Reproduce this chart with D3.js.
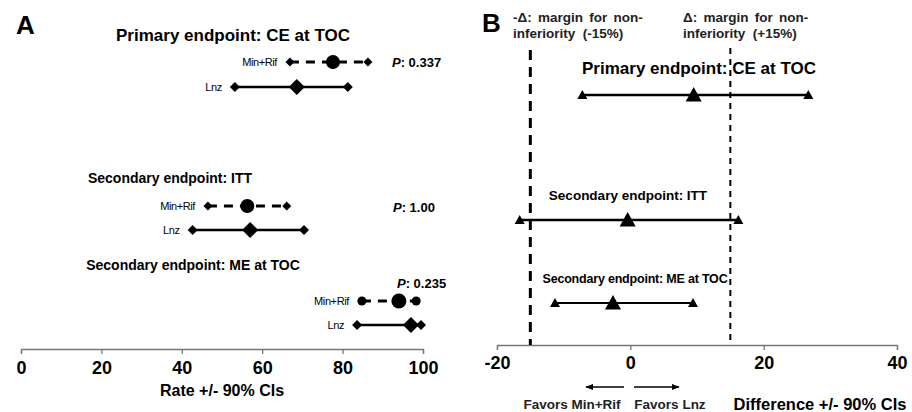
<!DOCTYPE html>
<html>
<head>
<meta charset="utf-8">
<script src="https://cdn.jsdelivr.net/npm/d3@7"></script>
<style>
  html, body { margin: 0; padding: 0; background: #fff; }
  svg { display: block; font-family: "Liberation Sans", Arial, sans-serif; }
  .pre { white-space: pre; }
</style>
</head>
<body>
<svg id="chart" width="912" height="412"></svg>
<script>
// ---------- DATA ----------
const endpoints = ["Primary endpoint: CE at TOC", "Secondary endpoint: ITT", "Secondary endpoint: ME at TOC"];
const arms = ["Min+Rif", "Lnz"];
// [lower CI, rate, upper CI]
const minRifRates = [[66.9, 77.6, 86.3], [46.5, 56.3, 66.1], [84.8, 94.0, 98.3]];
const lnzRates    = [[53.2, 68.6, 81.3], [42.7, 57.0, 70.4], [83.6, 97.0, 99.5]];
const pValues = ["0.337", "1.00", "0.235"];
// [lower CI, difference, upper CI]
const differences = [[-7.2, 9.5, 26.7], [-16.6, -0.4, 16.2], [-11.3, -2.6, 9.4]];
const margins = [-15, 15];
const marginLabels = [["-Δ: margin for non-", "inferiority  (-15%)"], ["Δ: margin for non-", "inferiority  (+15%)"]];
const ticksA = [0, 20, 40, 60, 80, 100];
const ticksB = [-20, 0, 20, 40];

// ---------- LAYOUT ----------
const svg = d3.select("#chart");
const axisColor = "#777";

// Panel A
const xA = d3.scaleLinear().domain([0, 100]).range([21, 423]);
const axisYA = 349;
const titleYA = [41, 183, 270];
const rowYA = d3.scaleOrdinal().domain(["0-Min+Rif","0-Lnz","1-Min+Rif","1-Lnz","2-Min+Rif","2-Lnz"])
  .range([62, 87, 206, 230, 301, 325]);
const titleXA = [233, 170, 193];
const titleSizeA = [17, 14, 14];
const pPos = [[392, 67], [393, 212], [397, 288]];

// Panel B
const xB = d3.scaleLinear().domain([-20, 40]).range([497, 897]);
const axisYB = 345;
const rowYB = [95, 220, 303];
const titleYB = [74, 200, 283];
const titleXB = [699, 628, 635];
const titleSizeB = [17, 13.5, 12.5];

// ---------- PANEL LETTERS ----------
svg.append("text").attr("x", 16).attr("y", 34).attr("font-size", 26).attr("font-weight", "bold").text("A");
svg.append("text").attr("x", 482).attr("y", 32).attr("font-size", 26).attr("font-weight", "bold").text("B");

// ---------- PANEL A ----------
const gA = svg.append("g");
const axA = d3.axisBottom(xA).tickValues(ticksA).tickSize(5).tickFormat(d3.format("d"));
const axisGA = gA.append("g").attr("transform", `translate(0,${axisYA})`).call(axA);
axisGA.select(".domain").attr("stroke", axisColor).attr("stroke-width", 1.3);
axisGA.selectAll(".tick line").attr("stroke", axisColor).attr("stroke-width", 1.3);
axisGA.selectAll(".tick text").attr("font-size", 18).attr("font-weight", "bold").attr("fill", "#000")
  .attr("dy", "0.73em").attr("y", 12).attr("font-family", "Liberation Sans, Arial, sans-serif");
gA.append("text").attr("x", 222).attr("y", 396).attr("text-anchor", "middle")
  .attr("font-size", 16).attr("font-weight", "bold").text("Rate +/- 90% CIs");

const diamond = (cx, cy, r) => `M${cx},${cy - r}L${cx + r},${cy}L${cx},${cy + r}L${cx - r},${cy}Z`;

endpoints.forEach((ep, i) => {
  gA.append("text").attr("x", titleXA[i]).attr("y", titleYA[i]).attr("text-anchor", "middle")
    .attr("font-size", titleSizeA[i]).attr("font-weight", "bold").text(ep);

  // P value
  const pt = gA.append("text").attr("x", pPos[i][0]).attr("y", pPos[i][1])
    .attr("font-size", 13).attr("font-weight", "bold");
  pt.append("tspan").attr("font-style", "italic").text("P");
  pt.append("tspan").text(": " + pValues[i]);

  // Min+Rif
  const mr = minRifRates[i];
  const yM = rowYA(i + "-Min+Rif");
  gA.append("line").attr("x1", xA(mr[0])).attr("x2", xA(mr[2])).attr("y1", yM).attr("y2", yM)
    .attr("stroke", "#000").attr("stroke-width", 3).attr("stroke-dasharray", "9,7");
  if (i === 2) {
    gA.append("circle").attr("cx", xA(mr[0])).attr("cy", yM).attr("r", 4.5);
    gA.append("circle").attr("cx", xA(mr[2])).attr("cy", yM).attr("r", 4.5);
  } else {
    gA.append("path").attr("d", diamond(xA(mr[0]), yM, 4.5));
    gA.append("path").attr("d", diamond(xA(mr[2]), yM, 4.5));
  }
  gA.append("circle").attr("cx", xA(mr[1])).attr("cy", yM).attr("r", i === 2 ? 7.5 : 7);
  gA.append("text").attr("x", xA(mr[0]) - 13).attr("y", yM + 4).attr("text-anchor", "end")
    .attr("font-size", 11).attr("letter-spacing", -0.4).text(arms[0]);

  // Lnz
  const lz = lnzRates[i];
  const yL = rowYA(i + "-Lnz");
  gA.append("line").attr("x1", xA(lz[0])).attr("x2", xA(lz[2])).attr("y1", yL).attr("y2", yL)
    .attr("stroke", "#000").attr("stroke-width", 2.5);
  gA.append("path").attr("d", diamond(xA(lz[0]), yL, 5));
  gA.append("path").attr("d", diamond(xA(lz[2]), yL, 5));
  gA.append("path").attr("d", diamond(xA(lz[1]), yL, 8));
  gA.append("text").attr("x", xA(lz[0]) - 13).attr("y", yL + 4).attr("text-anchor", "end")
    .attr("font-size", 11).attr("letter-spacing", -0.4).text(arms[1]);
});

// ---------- PANEL B ----------
const gB = svg.append("g");
const axB = d3.axisBottom(xB).tickValues(ticksB).tickSize(5).tickFormat(d3.format("d"));
const axisGB = gB.append("g").attr("transform", `translate(0,${axisYB})`).call(axB);
axisGB.select(".domain").attr("stroke", axisColor).attr("stroke-width", 1.3);
axisGB.selectAll(".tick line").attr("stroke", axisColor).attr("stroke-width", 1.3);
axisGB.selectAll(".tick text").attr("font-size", 18).attr("font-weight", "bold").attr("fill", "#000")
  .attr("dy", "0.73em").attr("y", 11).attr("font-family", "Liberation Sans, Arial, sans-serif")
  .text(d => d < 0 ? "-" + Math.abs(d) : d);

// margin lines
gB.append("line").attr("x1", xB(margins[0])).attr("x2", xB(margins[0])).attr("y1", 50).attr("y2", axisYB)
  .attr("stroke", "#000").attr("stroke-width", 3).attr("stroke-dasharray", "10,7");
gB.append("line").attr("x1", xB(margins[1])).attr("x2", xB(margins[1])).attr("y1", 48).attr("y2", axisYB)
  .attr("stroke", "#000").attr("stroke-width", 2).attr("stroke-dasharray", "6,5");

marginLabels.forEach((lbl, i) => {
  const x = i === 0 ? 513 : 683;
  lbl.forEach((l, j) => {
    gB.append("text").attr("class", "pre").attr("x", x).attr("y", 22 + j * 16).attr("font-size", 13.5)
      .attr("font-weight", "bold").attr("fill", "#222")
      .attr("word-spacing", j === 0 ? 2.5 : 0).text(l);
  });
});

const tri = (cx, cy, s) => `M${cx},${cy - s}L${cx + s},${cy + s * 0.8}L${cx - s},${cy + s * 0.8}Z`;

endpoints.forEach((ep, i) => {
  const d = differences[i];
  const y = rowYB[i];
  gB.append("text").attr("x", titleXB[i]).attr("y", titleYB[i]).attr("text-anchor", "middle")
    .attr("font-size", titleSizeB[i]).attr("font-weight", "bold")
    .attr("letter-spacing", i === 2 ? -0.2 : 0).text(ep);
  gB.append("line").attr("x1", xB(d[0])).attr("x2", xB(d[2])).attr("y1", y).attr("y2", y)
    .attr("stroke", "#000").attr("stroke-width", i === 2 ? 2 : 2.5);
  gB.append("path").attr("d", tri(xB(d[0]), y, 5));
  gB.append("path").attr("d", tri(xB(d[2]), y, 5));
  gB.append("path").attr("d", tri(xB(d[1]), y, 8));
});

// favors arrows
svg.append("defs").append("marker").attr("id", "arr").attr("viewBox", "0 0 10 10")
  .attr("refX", 9).attr("refY", 5).attr("markerWidth", 6).attr("markerHeight", 6)
  .attr("orient", "auto-start-reverse")
  .append("path").attr("d", "M0,1L10,5L0,9Z").attr("fill", "#000");
gB.append("line").attr("x1", 624).attr("x2", 586).attr("y1", 387).attr("y2", 387)
  .attr("stroke", "#000").attr("stroke-width", 1.3).attr("marker-end", "url(#arr)");
gB.append("line").attr("x1", 634).attr("x2", 679).attr("y1", 387).attr("y2", 387)
  .attr("stroke", "#000").attr("stroke-width", 1.3).attr("marker-end", "url(#arr)");
gB.append("text").attr("x", 572).attr("y", 409).attr("text-anchor", "middle")
  .attr("font-size", 13.5).attr("font-weight", "bold").attr("fill", "#222").text("Favors Min+Rif");
gB.append("text").attr("x", 670).attr("y", 409).attr("text-anchor", "middle")
  .attr("font-size", 13.5).attr("font-weight", "bold").attr("fill", "#222").text("Favors Lnz");
gB.append("text").attr("x", 820).attr("y", 410).attr("text-anchor", "middle")
  .attr("font-size", 16.5).attr("font-weight", "bold").text("Difference +/- 90% CIs");
</script>
</body>
</html>
